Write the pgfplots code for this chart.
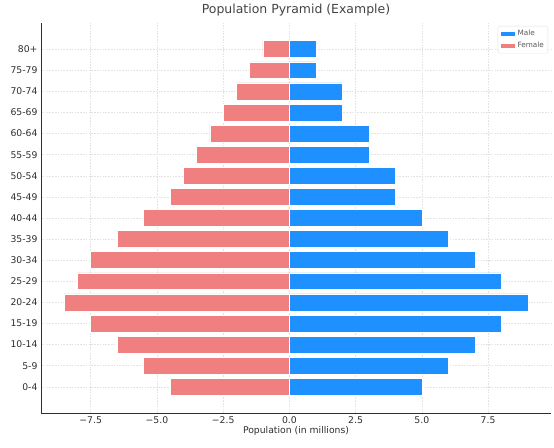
\documentclass[border=0pt]{standalone}
\usepackage{fontspec}
\setmainfont{DejaVu Sans}
\usepackage{pgfplots}
\pgfplotsset{compat=1.18}
\definecolor{male}{HTML}{1E90FF}
\definecolor{female}{HTML}{F08080}
\definecolor{txt}{HTML}{2E2E2E}
\definecolor{gridc}{HTML}{E2E2E2}
\begin{document}
\begin{tikzpicture}
\begin{axis}[
  scale only axis, width=510bp, height=390bp,
  xbar, bar shift=0pt, bar width=0.8,
  xmin=-9.375, xmax=9.875, ymin=-1.24, ymax=17.24,
  axis lines*=left,
  axis line style={draw=txt, line width=0.8bp},
  major tick length=0pt,
  xtick={-7.5,-5,-2.5,0,2.5,5,7.5},
  xticklabels={−7.5,−5.0,−2.5,0.0,2.5,5.0,7.5},
  ytick={0,...,16},
  yticklabels={0-4,5-9,10-14,15-19,20-24,25-29,30-34,35-39,40-44,45-49,50-54,55-59,60-64,65-69,70-74,75-79,80+},
  ticklabel style={font=\fontsize{9.3}{11}\selectfont, text=txt},
  xmajorgrids, ymajorgrids,
  grid style={gridc, dash pattern=on 1.6bp off 1.2bp, line width=0.5bp},
  xlabel={Population (in millions)},
  xlabel style={font=\fontsize{9.3}{11}\selectfont, text=txt, yshift=4bp},
  title={Population Pyramid (Example)},
  title style={font=\fontsize{12.5}{15}\selectfont, text=txt!90, yshift=-3bp},
  legend cell align=left,
  legend style={at={(rel axis cs:1,1)}, anchor=north east, xshift=-3bp, yshift=-3bp,
    draw=gridc, rounded corners=2bp, font=\fontsize{7.3}{8.5}\selectfont, text=txt!80,
    inner sep=2bp, row sep=1bp},
  legend image code/.code={\fill[#1, sharp corners] (0bp,-2.3bp) rectangle (15bp,2.3bp);},
]
\addplot[fill=male, draw=white, line width=0.6bp]
  coordinates {(5,0)(6,1)(7,2)(8,3)(9,4)(8,5)(7,6)(6,7)(5,8)(4,9)(4,10)(3,11)(3,12)(2,13)(2,14)(1,15)(1,16)};
\addlegendentry{Male}
\addplot[fill=female, draw=white, line width=0.6bp]
  coordinates {(-4.5,0)(-5.5,1)(-6.5,2)(-7.5,3)(-8.5,4)(-8,5)(-7.5,6)(-6.5,7)(-5.5,8)(-4.5,9)(-4,10)(-3.5,11)(-3,12)(-2.5,13)(-2,14)(-1.5,15)(-1,16)};
\addlegendentry{Female}
\end{axis}
\path[use as bounding box] (-41bp,-35bp) rectangle (513bp,413bp);
\end{tikzpicture}
\end{document}
